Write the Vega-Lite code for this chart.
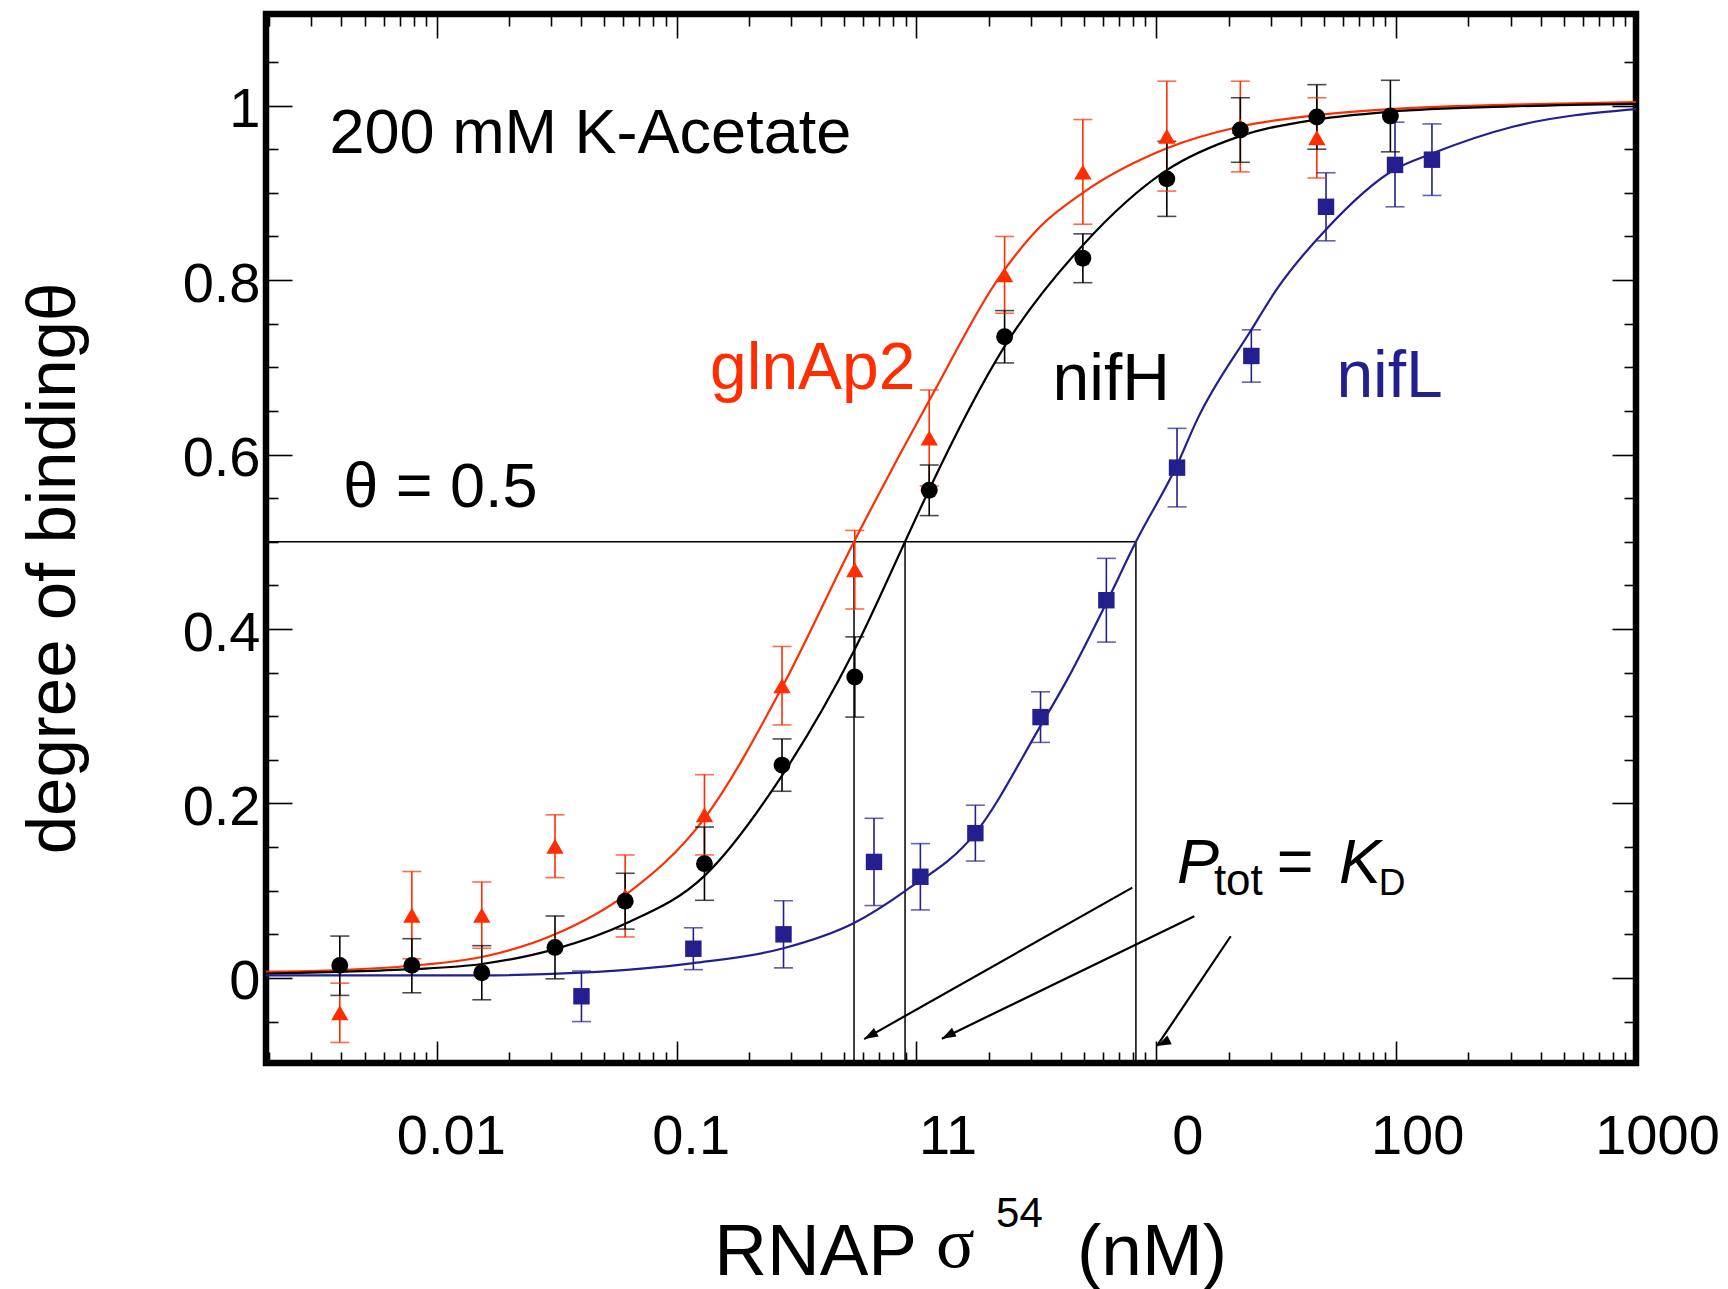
{
  "$schema": "https://vega.github.io/schema/vega-lite/v6.json",
  "width": 1370,
  "height": 1049,
  "autosize": {"type": "none"},
  "padding": {"left": 266, "top": 14, "right": 92, "bottom": 226},
  "background": "white",
  "config": {
    "view": {"stroke": "black", "strokeWidth": 6.5},
    "axis": {"domain": false, "grid": false, "tickColor": "black", "tickWidth": 1.6, "labelColor": "black", "labelFont": "Liberation Sans", "titleColor": "black", "labelOverlap": false, "labelFlush": false, "labelBound": false}
  },
  "datasets": {
    "points": [
      {"series": "glnAp2", "x": 0.00394, "y": -0.040, "lo": -0.074, "hi": -0.006},
      {"series": "glnAp2", "x": 0.00787, "y": 0.072, "lo": 0.022, "hi": 0.122},
      {"series": "glnAp2", "x": 0.0154, "y": 0.072, "lo": 0.034, "hi": 0.110},
      {"series": "glnAp2", "x": 0.0311, "y": 0.151, "lo": 0.115, "hi": 0.187},
      {"series": "glnAp2", "x": 0.061, "y": 0.094, "lo": 0.047, "hi": 0.141},
      {"series": "glnAp2", "x": 0.1306, "y": 0.187, "lo": 0.141, "hi": 0.233},
      {"series": "glnAp2", "x": 0.275, "y": 0.335, "lo": 0.290, "hi": 0.380},
      {"series": "glnAp2", "x": 0.553, "y": 0.468, "lo": 0.423, "hi": 0.513},
      {"series": "glnAp2", "x": 1.13, "y": 0.619, "lo": 0.564, "hi": 0.674},
      {"series": "glnAp2", "x": 2.33, "y": 0.806, "lo": 0.762, "hi": 0.850},
      {"series": "glnAp2", "x": 4.94, "y": 0.924, "lo": 0.864, "hi": 0.984},
      {"series": "glnAp2", "x": 11.06, "y": 0.965, "lo": 0.902, "hi": 1.028},
      {"series": "glnAp2", "x": 22.4, "y": 0.976, "lo": 0.924, "hi": 1.028},
      {"series": "glnAp2", "x": 46.7, "y": 0.963, "lo": 0.917, "hi": 1.009},
      {"series": "nifH", "x": 0.00394, "y": 0.0144, "lo": -0.020, "hi": 0.048},
      {"series": "nifH", "x": 0.00787, "y": 0.0144, "lo": -0.017, "hi": 0.045},
      {"series": "nifH", "x": 0.0154, "y": 0.006, "lo": -0.025, "hi": 0.037},
      {"series": "nifH", "x": 0.0311, "y": 0.035, "lo": -0.001, "hi": 0.071},
      {"series": "nifH", "x": 0.061, "y": 0.088, "lo": 0.056, "hi": 0.120},
      {"series": "nifH", "x": 0.1306, "y": 0.131, "lo": 0.089, "hi": 0.173},
      {"series": "nifH", "x": 0.275, "y": 0.244, "lo": 0.214, "hi": 0.274},
      {"series": "nifH", "x": 0.553, "y": 0.345, "lo": 0.299, "hi": 0.391},
      {"series": "nifH", "x": 1.13, "y": 0.559, "lo": 0.530, "hi": 0.588},
      {"series": "nifH", "x": 2.33, "y": 0.735, "lo": 0.705, "hi": 0.765},
      {"series": "nifH", "x": 4.94, "y": 0.825, "lo": 0.797, "hi": 0.853},
      {"series": "nifH", "x": 11.06, "y": 0.916, "lo": 0.873, "hi": 0.959},
      {"series": "nifH", "x": 22.4, "y": 0.972, "lo": 0.935, "hi": 1.009},
      {"series": "nifH", "x": 46.7, "y": 0.987, "lo": 0.950, "hi": 1.024},
      {"series": "nifH", "x": 94.6, "y": 0.988, "lo": 0.947, "hi": 1.029},
      {"series": "nifL", "x": 0.0401, "y": -0.021, "lo": -0.050, "hi": 0.008},
      {"series": "nifL", "x": 0.1174, "y": 0.0335, "lo": 0.0095, "hi": 0.0575},
      {"series": "nifL", "x": 0.279, "y": 0.050, "lo": 0.0115, "hi": 0.0885},
      {"series": "nifL", "x": 0.665, "y": 0.133, "lo": 0.083, "hi": 0.183},
      {"series": "nifL", "x": 1.038, "y": 0.116, "lo": 0.078, "hi": 0.154},
      {"series": "nifL", "x": 1.76, "y": 0.166, "lo": 0.134, "hi": 0.198},
      {"series": "nifL", "x": 3.29, "y": 0.299, "lo": 0.270, "hi": 0.328},
      {"series": "nifL", "x": 6.19, "y": 0.433, "lo": 0.385, "hi": 0.481},
      {"series": "nifL", "x": 12.2, "y": 0.585, "lo": 0.540, "hi": 0.630},
      {"series": "nifL", "x": 24.9, "y": 0.713, "lo": 0.683, "hi": 0.743},
      {"series": "nifL", "x": 51.0, "y": 0.884, "lo": 0.845, "hi": 0.923},
      {"series": "nifL", "x": 98.9, "y": 0.932, "lo": 0.884, "hi": 0.981},
      {"series": "nifL", "x": 141, "y": 0.938, "lo": 0.897, "hi": 0.979}
    ],
    "curves": [
      {"series": "glnAp2", "x": 0.00194, "y": 0.007},
      {"series": "glnAp2", "x": 0.00394, "y": 0.009},
      {"series": "glnAp2", "x": 0.00787, "y": 0.014},
      {"series": "glnAp2", "x": 0.0154, "y": 0.024},
      {"series": "glnAp2", "x": 0.0311, "y": 0.05},
      {"series": "glnAp2", "x": 0.061, "y": 0.095},
      {"series": "glnAp2", "x": 0.1306, "y": 0.183},
      {"series": "glnAp2", "x": 0.275, "y": 0.333},
      {"series": "glnAp2", "x": 0.549, "y": 0.5},
      {"series": "glnAp2", "x": 1.13, "y": 0.662},
      {"series": "glnAp2", "x": 2.33, "y": 0.812},
      {"series": "glnAp2", "x": 3.3, "y": 0.862},
      {"series": "glnAp2", "x": 4.94, "y": 0.9},
      {"series": "glnAp2", "x": 11.06, "y": 0.951},
      {"series": "glnAp2", "x": 22.4, "y": 0.976},
      {"series": "glnAp2", "x": 46.7, "y": 0.989},
      {"series": "glnAp2", "x": 94.6, "y": 0.996},
      {"series": "glnAp2", "x": 300, "y": 1.001},
      {"series": "glnAp2", "x": 1000, "y": 1.004},
      {"series": "nifH", "x": 0.00194, "y": 0.005},
      {"series": "nifH", "x": 0.00394, "y": 0.007},
      {"series": "nifH", "x": 0.00787, "y": 0.01},
      {"series": "nifH", "x": 0.0154, "y": 0.016},
      {"series": "nifH", "x": 0.0311, "y": 0.033},
      {"series": "nifH", "x": 0.061, "y": 0.062},
      {"series": "nifH", "x": 0.1306, "y": 0.117},
      {"series": "nifH", "x": 0.275, "y": 0.232},
      {"series": "nifH", "x": 0.549, "y": 0.375},
      {"series": "nifH", "x": 0.896, "y": 0.5},
      {"series": "nifH", "x": 1.13, "y": 0.56},
      {"series": "nifH", "x": 2.33, "y": 0.724},
      {"series": "nifH", "x": 4.94, "y": 0.84},
      {"series": "nifH", "x": 11.06, "y": 0.926},
      {"series": "nifH", "x": 22.4, "y": 0.965},
      {"series": "nifH", "x": 46.7, "y": 0.984},
      {"series": "nifH", "x": 94.6, "y": 0.993},
      {"series": "nifH", "x": 300, "y": 0.999},
      {"series": "nifH", "x": 1000, "y": 1.002},
      {"series": "nifL", "x": 0.00194, "y": 0.003},
      {"series": "nifL", "x": 0.0154, "y": 0.003},
      {"series": "nifL", "x": 0.0401, "y": 0.006},
      {"series": "nifL", "x": 0.1174, "y": 0.017},
      {"series": "nifL", "x": 0.279, "y": 0.034},
      {"series": "nifL", "x": 0.549, "y": 0.063},
      {"series": "nifL", "x": 0.896, "y": 0.0996},
      {"series": "nifL", "x": 1.76, "y": 0.166},
      {"series": "nifL", "x": 3.29, "y": 0.289},
      {"series": "nifL", "x": 4.25, "y": 0.342},
      {"series": "nifL", "x": 6.19, "y": 0.43},
      {"series": "nifL", "x": 8.22, "y": 0.5},
      {"series": "nifL", "x": 12.2, "y": 0.588},
      {"series": "nifL", "x": 14.8, "y": 0.64},
      {"series": "nifL", "x": 24.9, "y": 0.743},
      {"series": "nifL", "x": 31.7, "y": 0.789},
      {"series": "nifL", "x": 51.0, "y": 0.858},
      {"series": "nifL", "x": 98.9, "y": 0.927},
      {"series": "nifL", "x": 141, "y": 0.945},
      {"series": "nifL", "x": 309, "y": 0.976},
      {"series": "nifL", "x": 1000, "y": 0.996}
    ],
    "arrows": [
      {"arrow": "a1", "x": 7.94, "y": 0.1035, "x2": 0.605, "y2": -0.0701},
      {"arrow": "a2", "x": 14.4, "y": 0.0708, "x2": 1.276, "y2": -0.0696},
      {"arrow": "a3", "x": 20.42, "y": 0.0478, "x2": 10.06, "y2": -0.0779}
    ]
  },
  "resolve": {"axis": {"x": "independent", "y": "independent"}},
  "layer": [
    {
      "data": {"values": [
        {"x": 0.00194, "x2": 8.22, "y": 0.5, "y2": 0.5},
        {"x": 0.549, "x2": 0.549, "y": 0.5, "y2": -0.0975},
        {"x": 0.896, "x2": 0.896, "y": 0.5, "y2": -0.0975},
        {"x": 8.22, "x2": 8.22, "y": 0.5, "y2": -0.0975}
      ]},
      "mark": {"type": "rule", "color": "black", "strokeWidth": 1.5},
      "encoding": {
        "x": {"field": "x", "type": "quantitative", "scale": {"type": "log", "domain": [0.00194, 1000], "nice": false}, "axis": {"orient": "bottom", "values": [0.01, 0.1, 1, 10, 100, 1000], "ticks": false, "tickSize": 0, "labelFontSize": 56, "labelPadding": 90, "labelBaseline": "alphabetic", "labelOffset": {"condition": [{"test": "datum.value > 0.5 && datum.value < 50", "value": 31}, {"test": "datum.value > 50", "value": 21}], "value": 14}, "labelExpr": "datum.value < 0.05 ? '0.01' : datum.value < 0.5 ? '0.1' : datum.value < 5 ? '11' : datum.value < 50 ? '0' : datum.value < 500 ? '100' : '1000'", "title": null}},
        "x2": {"field": "x2"},
        "y": {"field": "y", "type": "quantitative", "scale": {"domain": [-0.0975, 1.105], "nice": false, "zero": false}, "axis": {"orient": "left", "values": [0, 0.2, 0.4, 0.6, 0.8, 1], "ticks": false, "tickSize": 0, "labelFontSize": 56, "labelPadding": 6, "labelOffset": 4, "labelExpr": "datum.value == 0 ? '0' : datum.value == 1 ? '1' : format(datum.value, '.1f')", "title": "degree of bindingθ", "titleFont": "Liberation Sans", "titleFontSize": 69, "titleFontWeight": "normal", "titleX": -213, "titleY": 554, "titleAngle": 270, "titleAlign": "center", "titleBaseline": "middle"}},
        "y2": {"field": "y2"}
      }
    },
    {
      "data": {"name": "arrows"},
      "mark": {"type": "rule", "color": "black", "strokeWidth": 2.2},
      "encoding": {
        "x": {"field": "x", "type": "quantitative", "scale": {"type": "log", "domain": [0.00194, 1000], "nice": false}, "axis": {"orient": "bottom", "values": [0.01, 0.1, 1, 10, 100, 1000], "labels": false, "tickSize": -22, "title": null}},
        "x2": {"field": "x2"},
        "y": {"field": "y", "type": "quantitative", "scale": {"domain": [-0.0975, 1.105], "nice": false, "zero": false}, "axis": {"orient": "left", "values": [0, 0.2, 0.4, 0.6, 0.8, 1], "labels": false, "tickSize": -26, "title": null}},
        "y2": {"field": "y2"}
      }
    },
    {
      "data": {"name": "arrows"},
      "mark": {"type": "point", "shape": "M0,0L-0.7,2L0.7,2Z", "filled": true, "color": "black", "size": 196, "opacity": 1},
      "encoding": {
        "x": {"field": "x2", "type": "quantitative", "scale": {"type": "log", "domain": [0.00194, 1000], "nice": false}, "axis": {"orient": "bottom", "values": [0.002, 0.003, 0.004, 0.005, 0.006, 0.007, 0.008, 0.009, 0.02, 0.03, 0.04, 0.05, 0.06, 0.07, 0.08, 0.09, 0.2, 0.3, 0.4, 0.5, 0.6, 0.7, 0.8, 0.9, 2, 3, 4, 5, 6, 7, 8, 9, 20, 30, 40, 50, 60, 70, 80, 90, 200, 300, 400, 500, 600, 700, 800, 900], "labels": false, "tickSize": -11, "title": null}},
        "y": {"field": "y2", "type": "quantitative", "scale": {"domain": [-0.0975, 1.105], "nice": false, "zero": false}, "axis": {"orient": "left", "values": [-0.05, 0.05, 0.1, 0.15, 0.25, 0.3, 0.35, 0.45, 0.5, 0.55, 0.65, 0.7, 0.75, 0.85, 0.9, 0.95, 1.05], "labels": false, "tickSize": -12, "title": null}},
        "angle": {"field": "arrow", "type": "nominal", "scale": {"domain": ["a1", "a2", "a3"], "range": [240.5, 244.1, 213.9]}, "legend": null}
      }
    },
    {
      "data": {"name": "curves"},
      "mark": {"type": "line", "interpolate": "monotone", "strokeWidth": 2.2},
      "encoding": {
        "x": {"field": "x", "type": "quantitative", "scale": {"type": "log", "domain": [0.00194, 1000], "nice": false}, "axis": {"orient": "top", "values": [0.01, 0.1, 1, 10, 100, 1000], "labels": false, "tickSize": -24, "title": null}},
        "y": {"field": "y", "type": "quantitative", "scale": {"domain": [-0.0975, 1.105], "nice": false, "zero": false}, "axis": {"orient": "right", "values": [0, 0.2, 0.4, 0.6, 0.8, 1], "labels": false, "tickSize": -24, "title": null}},
        "color": {"field": "series", "type": "nominal", "scale": {"domain": ["glnAp2", "nifH", "nifL"], "range": ["#ff2d00", "#000000", "#241f8f"]}, "legend": null},
        "detail": {"field": "series"}
      }
    },
    {
      "data": {"name": "points"},
      "mark": {"type": "rule", "strokeWidth": 1.6},
      "encoding": {
        "x": {"field": "x", "type": "quantitative", "scale": {"type": "log", "domain": [0.00194, 1000], "nice": false}, "axis": {"orient": "top", "values": [0.002, 0.003, 0.004, 0.005, 0.006, 0.007, 0.008, 0.009, 0.02, 0.03, 0.04, 0.05, 0.06, 0.07, 0.08, 0.09, 0.2, 0.3, 0.4, 0.5, 0.6, 0.7, 0.8, 0.9, 2, 3, 4, 5, 6, 7, 8, 9, 20, 30, 40, 50, 60, 70, 80, 90, 200, 300, 400, 500, 600, 700, 800, 900], "labels": false, "tickSize": -12, "title": null}},
        "y": {"field": "lo", "type": "quantitative", "scale": {"domain": [-0.0975, 1.105], "nice": false, "zero": false}, "axis": {"orient": "right", "values": [-0.05, 0.05, 0.1, 0.15, 0.25, 0.3, 0.35, 0.45, 0.5, 0.55, 0.65, 0.7, 0.75, 0.85, 0.9, 0.95, 1.05], "labels": false, "tickSize": -12, "title": null}},
        "y2": {"field": "hi"},
        "color": {"field": "series", "type": "nominal", "scale": {"domain": ["glnAp2", "nifH", "nifL"], "range": ["#ff2d00", "#000000", "#241f8f"]}, "legend": null}
      }
    },
    {
      "data": {"name": "points"},
      "mark": {"type": "tick", "orient": "horizontal", "size": 19, "thickness": 1.6},
      "encoding": {
        "x": {"field": "x", "type": "quantitative", "scale": {"type": "log", "domain": [0.00194, 1000], "nice": false}, "axis": null},
        "y": {"field": "lo", "type": "quantitative", "scale": {"domain": [-0.0975, 1.105], "nice": false, "zero": false}, "axis": null},
        "color": {"field": "series", "type": "nominal", "scale": {"domain": ["glnAp2", "nifH", "nifL"], "range": ["#ff2d00", "#000000", "#241f8f"]}, "legend": null}
      }
    },
    {
      "data": {"name": "points"},
      "mark": {"type": "tick", "orient": "horizontal", "size": 19, "thickness": 1.6},
      "encoding": {
        "x": {"field": "x", "type": "quantitative", "scale": {"type": "log", "domain": [0.00194, 1000], "nice": false}, "axis": null},
        "y": {"field": "hi", "type": "quantitative", "scale": {"domain": [-0.0975, 1.105], "nice": false, "zero": false}, "axis": null},
        "color": {"field": "series", "type": "nominal", "scale": {"domain": ["glnAp2", "nifH", "nifL"], "range": ["#ff2d00", "#000000", "#241f8f"]}, "legend": null}
      }
    },
    {
      "data": {"name": "points"},
      "mark": {"type": "point", "filled": true, "opacity": 1},
      "encoding": {
        "x": {"field": "x", "type": "quantitative", "scale": {"type": "log", "domain": [0.00194, 1000], "nice": false}, "axis": null},
        "y": {"field": "y", "type": "quantitative", "scale": {"domain": [-0.0975, 1.105], "nice": false, "zero": false}, "axis": null},
        "color": {"field": "series", "type": "nominal", "scale": {"domain": ["glnAp2", "nifH", "nifL"], "range": ["#ff2d00", "#000000", "#241f8f"]}, "legend": null},
        "shape": {"field": "series", "type": "nominal", "scale": {"domain": ["glnAp2", "nifH", "nifL"], "range": ["triangle-up", "circle", "square"]}, "legend": null},
        "size": {"field": "series", "type": "nominal", "scale": {"domain": ["glnAp2", "nifH", "nifL"], "range": [300, 270, 300]}, "legend": null}
      }
    },
    {
      "data": {"values": [
        {"text": "200 mM K-Acetate", "x": 0.00357, "y": 0.9457},
        {"text": "θ = 0.5", "x": 0.00407, "y": 0.540}
      ]},
      "mark": {"type": "text", "align": "left", "baseline": "alphabetic", "font": "Liberation Sans", "fontSize": 63, "color": "black"},
      "encoding": {
        "x": {"field": "x", "type": "quantitative", "scale": {"type": "log", "domain": [0.00194, 1000], "nice": false}, "axis": null},
        "y": {"field": "y", "type": "quantitative", "scale": {"domain": [-0.0975, 1.105], "nice": false, "zero": false}, "axis": null},
        "text": {"field": "text"}
      }
    },
    {
      "data": {"values": [
        {"series": "glnAp2", "x": 0.3694, "y": 0.6746},
        {"series": "nifH", "x": 6.49, "y": 0.6623},
        {"series": "nifL", "x": 93.9, "y": 0.6661}
      ]},
      "mark": {"type": "text", "align": "center", "baseline": "alphabetic", "font": "Liberation Sans", "fontSize": 66},
      "encoding": {
        "x": {"field": "x", "type": "quantitative", "scale": {"type": "log", "domain": [0.00194, 1000], "nice": false}, "axis": null},
        "y": {"field": "y", "type": "quantitative", "scale": {"domain": [-0.0975, 1.105], "nice": false, "zero": false}, "axis": null},
        "text": {"field": "series"},
        "color": {"field": "series", "type": "nominal", "scale": {"domain": ["glnAp2", "nifH", "nifL"], "range": ["#ff2d00", "#000000", "#241f8f"]}, "legend": null}
      }
    },
    {
      "data": {"values": [
        {"text": "P", "x": 12.19, "y": 0.1085},
        {"text": "K", "x": 57.7, "y": 0.1085}
      ]},
      "mark": {"type": "text", "align": "left", "baseline": "alphabetic", "font": "Liberation Sans", "fontStyle": "italic", "fontSize": 63, "color": "black"},
      "encoding": {
        "x": {"field": "x", "type": "quantitative", "scale": {"type": "log", "domain": [0.00194, 1000], "nice": false}, "axis": null},
        "y": {"field": "y", "type": "quantitative", "scale": {"domain": [-0.0975, 1.105], "nice": false, "zero": false}, "axis": null},
        "text": {"field": "text"}
      }
    },
    {
      "data": {"values": [
        {"text": "=", "x": 31.8, "y": 0.1085}
      ]},
      "mark": {"type": "text", "align": "left", "baseline": "alphabetic", "font": "Liberation Sans", "fontSize": 63, "color": "black"},
      "encoding": {
        "x": {"field": "x", "type": "quantitative", "scale": {"type": "log", "domain": [0.00194, 1000], "nice": false}, "axis": null},
        "y": {"field": "y", "type": "quantitative", "scale": {"domain": [-0.0975, 1.105], "nice": false, "zero": false}, "axis": null},
        "text": {"field": "text"}
      }
    },
    {
      "data": {"values": [
        {"text": "tot", "x": 17.38, "y": 0.0951}
      ]},
      "mark": {"type": "text", "align": "left", "baseline": "alphabetic", "font": "Liberation Sans", "fontSize": 44, "color": "black"},
      "encoding": {
        "x": {"field": "x", "type": "quantitative", "scale": {"type": "log", "domain": [0.00194, 1000], "nice": false}, "axis": null},
        "y": {"field": "y", "type": "quantitative", "scale": {"domain": [-0.0975, 1.105], "nice": false, "zero": false}, "axis": null},
        "text": {"field": "text"}
      }
    },
    {
      "data": {"values": [
        {"text": "D", "x": 84.6, "y": 0.0951}
      ]},
      "mark": {"type": "text", "align": "left", "baseline": "alphabetic", "font": "Liberation Sans", "fontSize": 37, "color": "black"},
      "encoding": {
        "x": {"field": "x", "type": "quantitative", "scale": {"type": "log", "domain": [0.00194, 1000], "nice": false}, "axis": null},
        "y": {"field": "y", "type": "quantitative", "scale": {"domain": [-0.0975, 1.105], "nice": false, "zero": false}, "axis": null},
        "text": {"field": "text"}
      }
    },
    {
      "data": {"values": [
        {"text": "RNAP", "x": 0.1434, "y": -0.3403},
        {"text": "(nM)", "x": 4.67, "y": -0.3403}
      ]},
      "mark": {"type": "text", "align": "left", "baseline": "alphabetic", "font": "Liberation Sans", "fontSize": 73, "color": "black"},
      "encoding": {
        "x": {"field": "x", "type": "quantitative", "scale": {"type": "log", "domain": [0.00194, 1000], "nice": false}, "axis": null},
        "y": {"field": "y", "type": "quantitative", "scale": {"domain": [-0.0975, 1.105], "nice": false, "zero": false}, "axis": null},
        "text": {"field": "text"}
      }
    },
    {
      "data": {"values": [
        {"text": "σ", "x": 1.207, "y": -0.331}
      ]},
      "mark": {"type": "text", "align": "left", "baseline": "alphabetic", "font": "Liberation Serif", "fontSize": 72, "color": "black"},
      "encoding": {
        "x": {"field": "x", "type": "quantitative", "scale": {"type": "log", "domain": [0.00194, 1000], "nice": false}, "axis": null},
        "y": {"field": "y", "type": "quantitative", "scale": {"domain": [-0.0975, 1.105], "nice": false, "zero": false}, "axis": null},
        "text": {"field": "text"}
      }
    },
    {
      "data": {"values": [
        {"text": "54", "x": 2.146, "y": -0.2853}
      ]},
      "mark": {"type": "text", "align": "left", "baseline": "alphabetic", "font": "Liberation Sans", "fontSize": 42, "color": "black"},
      "encoding": {
        "x": {"field": "x", "type": "quantitative", "scale": {"type": "log", "domain": [0.00194, 1000], "nice": false}, "axis": null},
        "y": {"field": "y", "type": "quantitative", "scale": {"domain": [-0.0975, 1.105], "nice": false, "zero": false}, "axis": null},
        "text": {"field": "text"}
      }
    }
  ]
}
